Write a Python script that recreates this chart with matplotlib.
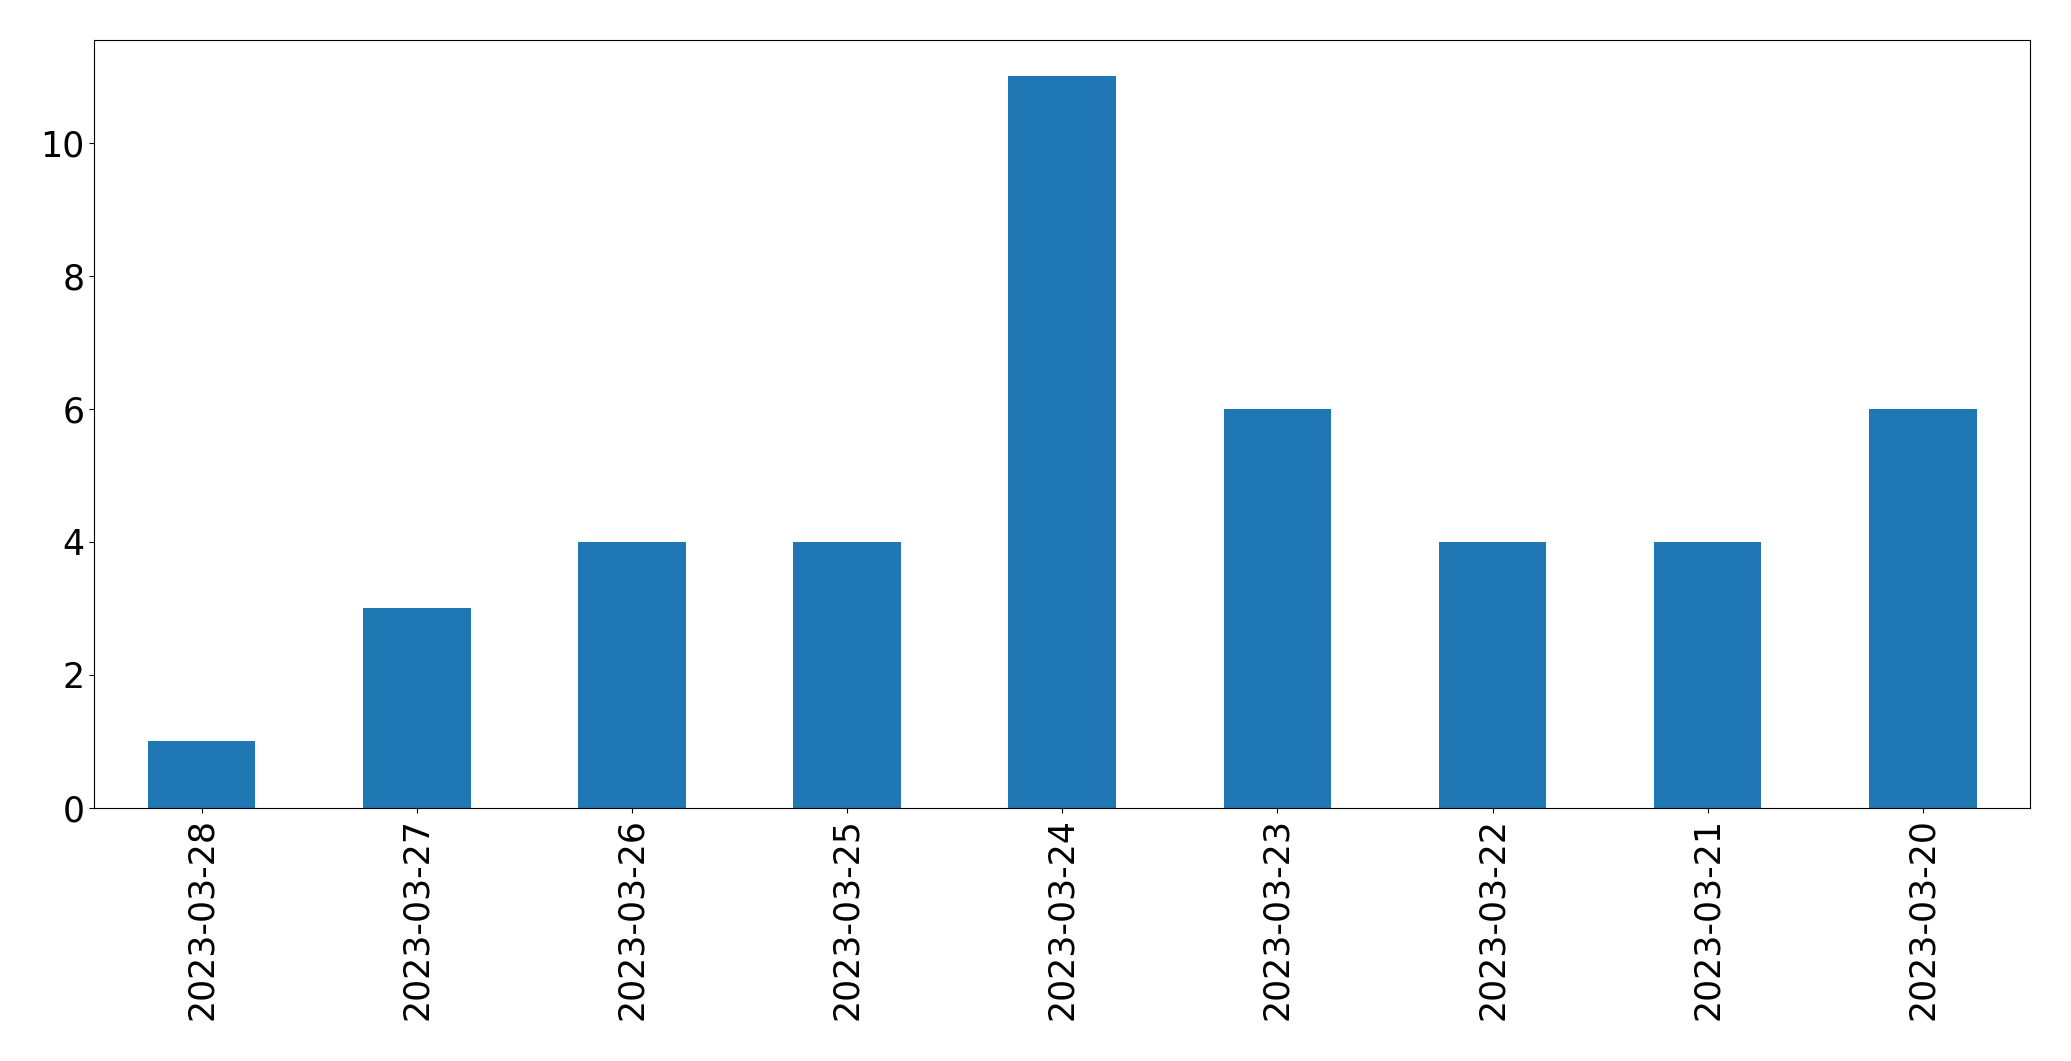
import matplotlib
matplotlib.use("Agg")
import matplotlib.pyplot as plt
import pandas as pd

dates = ["2023-03-28", "2023-03-27", "2023-03-26", "2023-03-25", "2023-03-24",
         "2023-03-23", "2023-03-22", "2023-03-21", "2023-03-20"]
counts = [1, 3, 4, 4, 11, 6, 4, 4, 6]

fig = plt.figure(figsize=(20.71, 10.61), dpi=100)
ax = fig.add_axes([0.0454, 0.2385, 0.9350, 0.7242])
s = pd.Series(counts, index=dates)
s.plot(kind="bar", ax=ax, color="#1f77b4")
ax.tick_params(axis="both", labelsize=25)
fig.savefig("out.png", dpi=100)
